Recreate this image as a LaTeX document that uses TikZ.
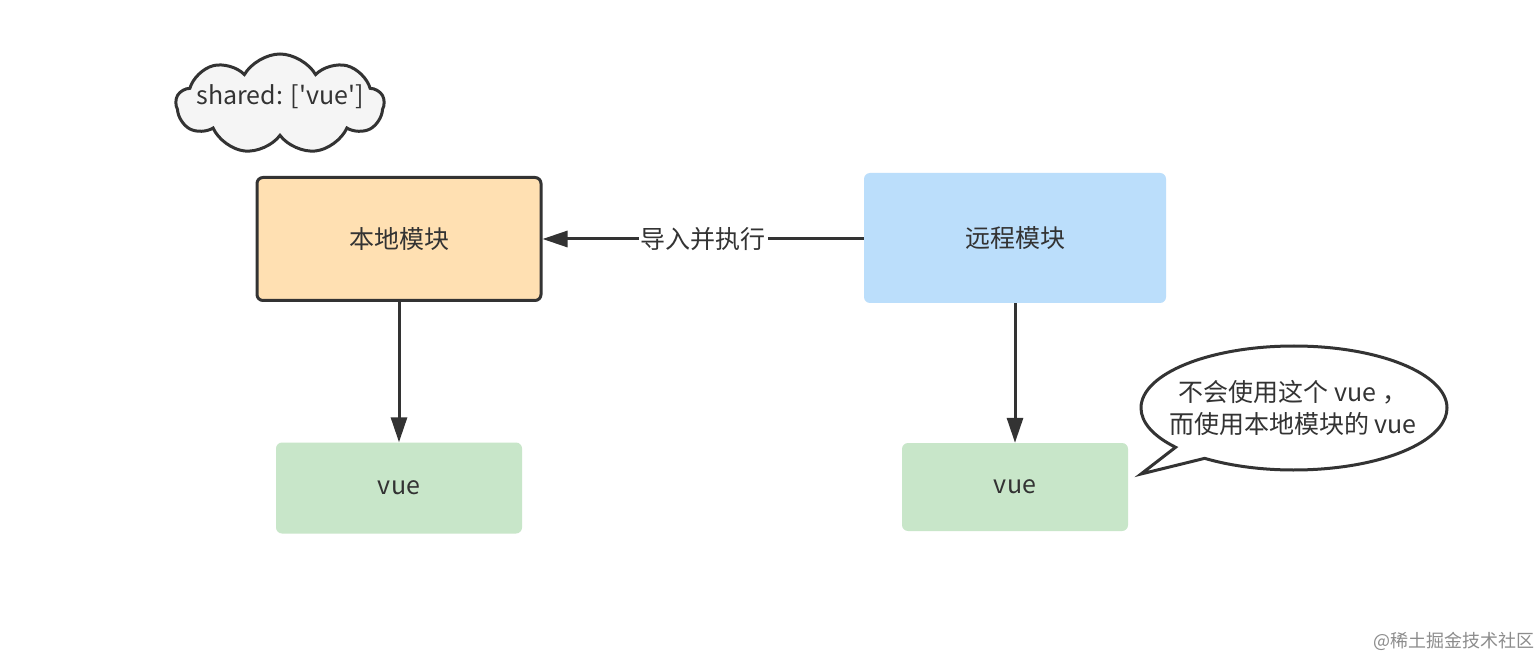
\documentclass[tikz,border=0pt]{standalone}
\usepackage{fontspec}
\setmainfont{Noto Sans CJK SC}
\newfontfamily\plainfont{Noto Sans CJK SC}
\usetikzlibrary{shapes.symbols,shapes.callouts,arrows.meta}
\definecolor{ink}{HTML}{333333}
\definecolor{orangefill}{HTML}{FFE0B2}
\definecolor{bluefill}{HTML}{BBDEFB}
\definecolor{greenfill}{HTML}{C8E6C9}
\definecolor{cloudfill}{HTML}{F5F5F5}
\tikzset{
  txt/.style={text=ink, font=\plainfont\fontsize{25}{30}\selectfont},
  modbox/.style={rectangle, rounded corners=6pt, txt, inner sep=0pt},
  conn/.style={draw=ink, line width=3pt, -{Triangle[length=25pt,width=16pt]}},
  lbl/.style={fill=white, txt, inner sep=2pt},
}
\begin{document}
\begin{tikzpicture}[x=1pt,y=-1pt]
\useasboundingbox[fill=white] (0,0) rectangle (1540,660);
% cloud
\node[cloud, cloud puffs=9, cloud puff arc=120, aspect=2.1, draw=ink, line width=3pt, fill=cloudfill,
  minimum width=208pt, minimum height=100pt, inner sep=0pt] (cloud) at (280,104) {};
\node[txt, font=\plainfont\fontsize{25}{28}\selectfont, inner sep=0pt] (cloudtext) at (280,97) {shared: ['vue']};
% boxes
\node[modbox, fill=orangefill, draw=ink, line width=3pt, minimum width=284pt, minimum height=123pt]
  (local) at (399,239) {本地模块};
\node[modbox, fill=bluefill, minimum width=302pt, minimum height=130pt]
  (remote) at (1015,238) {远程模块};
\node[modbox, fill=greenfill, minimum width=246pt, minimum height=91pt]
  (lvue) at (399,488) {vue};
\node[modbox, fill=greenfill, minimum width=226pt, minimum height=88pt]
  (rvue) at (1015,487) {vue};
% connectors
\draw[conn] (remote.west |- 0,239) -- node[lbl] (imp) {导入并执行} (local.east |- 0,239);
\draw[conn] (local.south) -- (lvue.north);
\draw[conn] (remote.south) -- (rvue.north);
% speech bubble
\node[ellipse callout, draw=ink, line width=3pt, fill=white, minimum width=306pt, minimum height=124pt,
  callout absolute pointer={(1141,474)}, inner sep=0pt] (bubble) at (1294,408) {};
\node[txt, align=center, inner sep=0pt, font=\plainfont\fontsize{25}{32}\selectfont] (bubbletext) at (1293,408)
  {不会使用这个 vue ，\\而使用本地模块的 vue};
% watermark
\node[text=black!45, font=\plainfont\fontsize{18}{20}\selectfont, anchor=east, inner sep=0pt] (wm) at (1535,641) {@稀土掘金技术社区};
\end{tikzpicture}
\end{document}
